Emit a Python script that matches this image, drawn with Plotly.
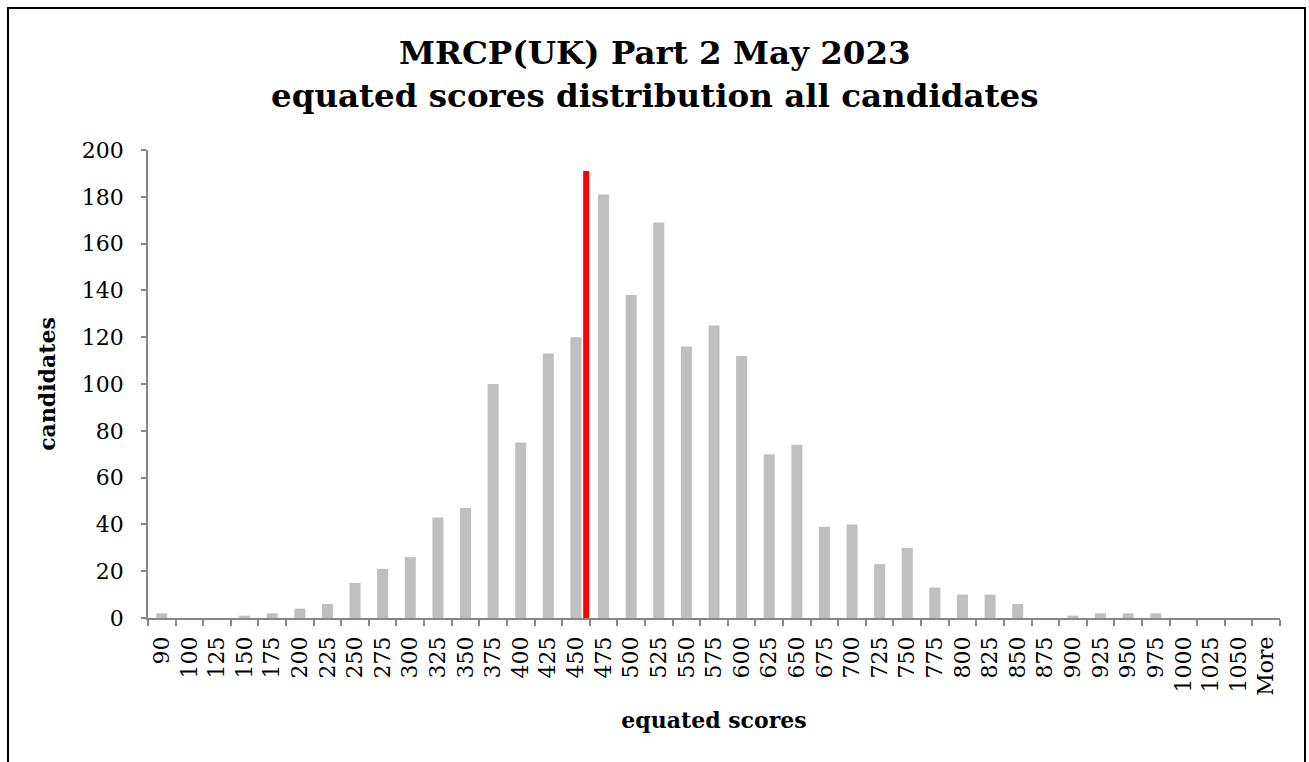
import plotly.graph_objects as go

categories = ["90", "100", "125", "150", "175", "200", "225", "250", "275", "300",
              "325", "350", "375", "400", "425", "450", "475", "500", "525", "550",
              "575", "600", "625", "650", "675", "700", "725", "750", "775", "800",
              "825", "850", "875", "900", "925", "950", "975", "1000", "1025", "1050",
              "More"]
candidates = [2, 0, 0, 1, 2, 4, 6, 15, 21, 26,
              43, 47, 100, 75, 113, 120, 181, 138, 169, 116,
              125, 112, 70, 74, 39, 40, 23, 30, 13, 10,
              10, 6, 0, 1, 2, 2, 2, 0, 0, 0,
              0]
pass_mark_pos = 15.37   # position of the red pass-mark line (category index units)
pass_mark_top = 191

title_lines = ["MRCP(UK) Part 2 May 2023", "equated scores distribution all candidates"]
FONT = "DejaVu Serif"
W, H = 1309, 762
ML, MR, MT, MB = 148, 29, 150, 144
PW, PH = W - ML - MR, H - MT - MB


def py(ypix):
    return (H - MB - ypix) / PH


def px(xpix):
    return (xpix - ML) / PW


fig = go.Figure()
fig.add_trace(go.Bar(x=categories, y=candidates, marker=dict(color="#BFBFBF", line=dict(width=0)),
                     hoverinfo="x+y"))

fig.add_shape(type="line", xref="x", yref="y", x0=pass_mark_pos, x1=pass_mark_pos,
              y0=0, y1=pass_mark_top, line=dict(color="#FF0000", width=6))

# outer chart border
fig.add_shape(type="rect", xref="paper", yref="paper",
              x0=px(8), x1=px(1305), y0=py(790), y1=py(8),
              line=dict(color="black", width=2), fillcolor="rgba(0,0,0,0)", layer="below")

for i, (line, ypix) in enumerate(zip(title_lines, [52, 96])):
    fig.add_annotation(text=line, xref="paper", yref="paper", x=px(W / 2), y=py(ypix),
                       xanchor="center", yanchor="middle", showarrow=False,
                       font=dict(family=FONT, size=32.5, color="black", weight="bold"))

axis_col = "#868686"
fig.update_layout(
    width=W, height=H,
    margin=dict(l=ML, r=MR, t=MT, b=MB, autoexpand=False),
    paper_bgcolor="white", plot_bgcolor="white",
    bargap=0.6, showlegend=False,
    font=dict(family=FONT, color="black", size=22),
    xaxis=dict(type="category", tickmode="linear", dtick=1, tick0=0,
               tickson="boundaries", ticks="outside", ticklen=6,
               tickcolor=axis_col, tickwidth=1.5, showline=True, linecolor=axis_col,
               linewidth=1.5, showgrid=False, tickangle=-90, ticklabelstandoff=8,
               tickfont=dict(family=FONT, size=22, color="black"),
               title=dict(text="equated scores", standoff=18,
                          font=dict(family=FONT, size=22, color="black", weight="bold"))),
    yaxis=dict(range=[0, 200], dtick=20, ticks="outside", ticklen=5, tickcolor=axis_col,
               tickwidth=1.5, showline=True, linecolor=axis_col, linewidth=1.5,
               showgrid=False, zeroline=False, ticklabelstandoff=13,
               tickfont=dict(family=FONT, size=22, color="black"),
               title=dict(text="candidates", standoff=20,
                          font=dict(family=FONT, size=22, color="black", weight="bold"))),
)

fig.write_html("out.html", config={"displayModeBar": False},
               post_script="document.body.style.margin='0';")
